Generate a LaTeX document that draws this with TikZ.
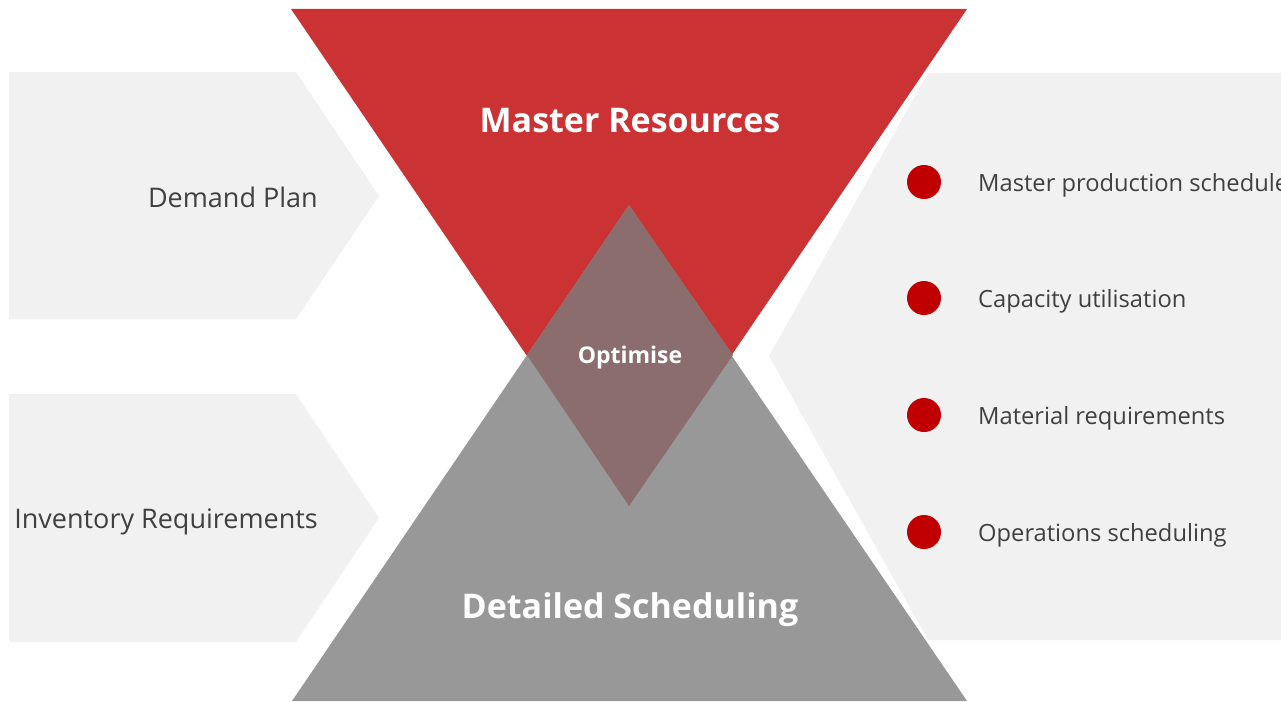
\documentclass[tikz,border=0pt]{standalone}
\usepackage{fontspec}
\setmainfont{Open Sans}
\definecolor{redtri}{HTML}{CB3234}
\definecolor{graytri}{HTML}{989898}
\definecolor{overlap}{HTML}{8B6D6E}
\definecolor{panel}{HTML}{F1F1F1}
\definecolor{txt}{HTML}{404040}
\definecolor{bullet}{HTML}{C00000}
\tikzset{
  panelshape/.style={fill=panel, draw=none},
  lefttext/.style={anchor=base east, text=txt, font=\fontsize{27}{32}\selectfont, inner sep=0pt},
  righttext/.style={anchor=base west, text=txt, font=\fontsize{23.7}{28}\selectfont, inner sep=0pt},
  bigtitle/.style={anchor=base, text=white, font=\bfseries\fontsize{34}{40}\selectfont, inner sep=0pt},
  smalltitle/.style={anchor=base, text=white, font=\bfseries\fontsize{23}{28}\selectfont, inner sep=0pt},
  dot/.style={circle, fill=bullet, minimum size=34pt, inner sep=0pt}
}
\begin{document}
\begin{tikzpicture}[x=1pt,y=-1pt]
\useasboundingbox (0,0) rectangle (1281,701);
\clip (0,0) rectangle (1281,701);
% left chevrons
\fill[panelshape] (9,72) -- (296,72) -- (379,196) -- (296,319) -- (9,319) -- cycle;
\fill[panelshape] (9,394) -- (296,394) -- (379,518) -- (296,642) -- (9,642) -- cycle;
% right panel
\fill[panelshape] (928,73) -- (1290,73) -- (1290,640) -- (928,640) -- (769,356) -- cycle;
% triangles
\coordinate (rA) at (291,9);
\coordinate (rB) at (967,9);
\coordinate (rC) at (629,506);
\coordinate (gA) at (292,701);
\coordinate (gB) at (967,701);
\coordinate (gC) at (629,205);
\coordinate (oL) at (527,355);
\coordinate (oR) at (733,355);
\fill[redtri] (rA) -- (rB) -- (rC) -- cycle;
\fill[graytri] (gA) -- (gB) -- (gC) -- cycle;
\fill[overlap] (gC) -- (oR) -- (rC) -- (oL) -- cycle;
% titles
\node[bigtitle] (master) at (630,132) {Master Resources};
\node[bigtitle] (detail) at (630,618) {Detailed Scheduling};
\node[smalltitle] (opt) at (630,363) {Optimise};
% left texts
\node[lefttext] (demand) at (318,207) {Demand Plan};
\node[lefttext] (inv) at (318,528) {Inventory Requirements};
% bullets
\node[dot] (d1) at (924,182) {};
\node[dot] (d2) at (924,298) {};
\node[dot] (d3) at (924,415) {};
\node[dot] (d4) at (924,532) {};
\node[righttext] (t1) at (978,191.5) {Master production schedule};
\node[righttext] (t2) at (978,307.5) {Capacity utilisation};
\node[righttext] (t3) at (978,424.5) {Material requirements};
\node[righttext] (t4) at (978,541.5) {Operations scheduling};
\end{tikzpicture}
\end{document}
